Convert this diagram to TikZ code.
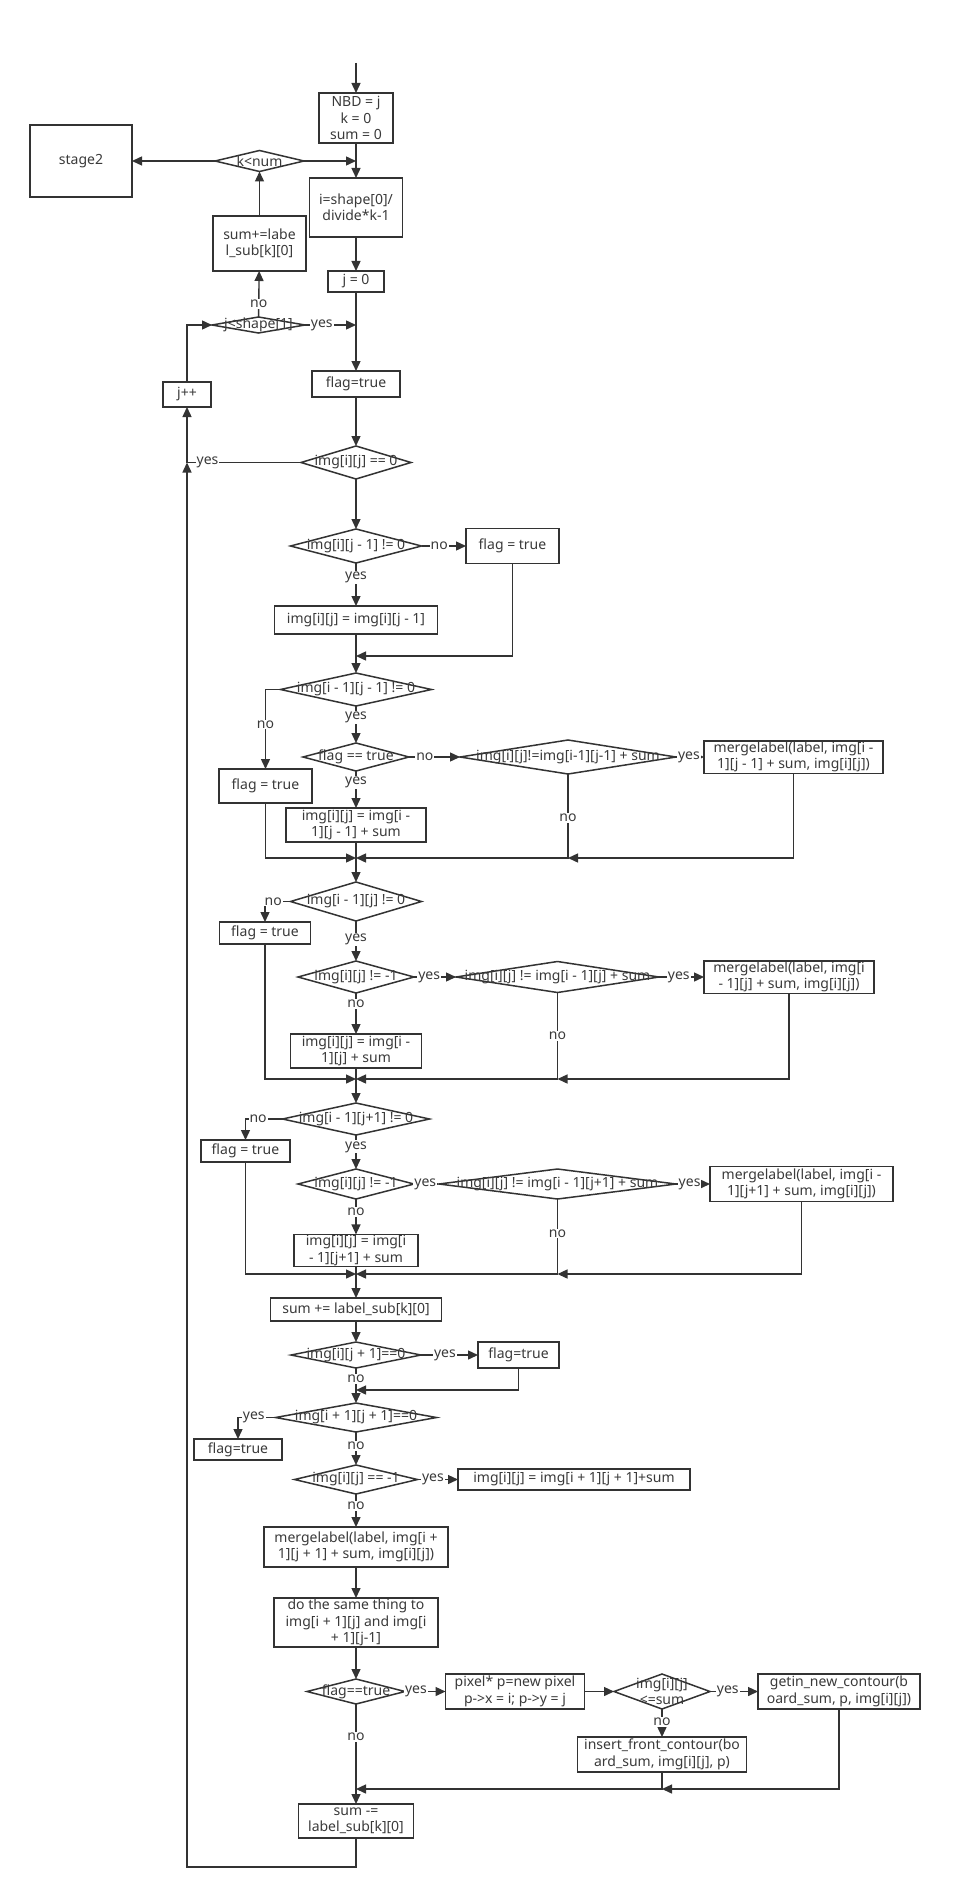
\documentclass[tikz,border=0pt]{standalone}
\usepackage{fontspec}
\setmainfont{Noto Sans}
\usetikzlibrary{arrows.meta,calc,shapes.geometric}
\definecolor{lc}{HTML}{333333}
\definecolor{tc}{HTML}{3A3A3A}
\newcommand\myfs{\fontsize{14}{16.5}\selectfont}
\newcommand\dianode[5]{\node[dia,minimum width=#3,minimum height=#4] (#1) at #2 {};\node[txt] (#1t) at (#1) {#5};}
\newcommand\boxnode[5]{\node[box,minimum width=#3,minimum height=#4] (#1) at #2 {#5};}
\tikzset{
  box/.style={draw=lc, line width=1.5pt, fill=white, inner sep=1pt, outer sep=0pt, align=center, text=tc, font=\myfs},
  dia/.style={draw=lc, line width=1.5pt, diamond, inner sep=0pt, outer sep=0pt},
  txt/.style={text=tc, font=\myfs, align=center, inner sep=0pt},
  arr/.style={draw=lc, line width=1.4pt, -{Triangle[length=10pt,width=9pt]}},
  ln/.style={draw=lc, line width=1.4pt},
  lab/.style={fill=white, text=tc, font=\myfs, inner sep=1pt},
}
\begin{document}
\begin{tikzpicture}[x=1pt,y=-1pt]
\useasboundingbox[fill=white] (0,0) rectangle (970,1894);
% ---------- top part ----------
\coordinate (top) at (356,63);
\boxnode{nbd}{(356,118)}{74}{50}{NBD = j\\k = 0\\sum = 0}
\boxnode{stage}{(81,161)}{102}{72}{stage2}
\dianode{knum}{(259.5,161)}{89}{21}{k<num}
\boxnode{ishape}{(356,207.5)}{93}{59}{i=shape[0]/\\divide*k-1}
\boxnode{sumlab}{(259.5,243.5)}{93}{55}{sum+=labe\\l\_sub[k][0]}
\boxnode{j0}{(356,281.5)}{56}{21}{j = 0}
\dianode{jsh}{(258.5,325)}{93}{16}{j<shape[1]}
\boxnode{jpp}{(187,394.5)}{48}{25}{j++}
\boxnode{flag0}{(356,384)}{88}{26}{flag=true}
\draw[arr] (top) -- (nbd);
\draw[arr] (nbd) -- (ishape);
\draw[arr] (knum.east) -- (knum.east -| nbd.south);
\draw[arr] (knum) -- (stage);
\draw[arr] (sumlab) -- (knum);
\draw[arr] (jsh) -- node[lab,pos=0.28]{no} (sumlab);
\draw[arr] (ishape) -- (j0);
\draw[arr] (jsh.east) -- node[lab,pos=0.33]{yes} (jsh.east -| j0.south);
\draw[arr] (j0) -- (flag0);
\draw[arr] (jpp.north) |- (jsh.west);
% ---------- block 1 ----------
\dianode{img0}{(356,462.5)}{110}{33}{img[i][j] == 0}
\coordinate (yj) at (187,462.5);
\draw[arr] (flag0) -- (img0);
\draw[ln] (img0.west) -- node[lab,pos=0.82]{yes} (yj);
\dianode{d2}{(356,546)}{131}{34}{img[i][j - 1] != 0}
\boxnode{flagA}{(512.5,546)}{93}{35}{flag = true}
\boxnode{boxA}{(356,620)}{163}{28}{img[i][j] = img[i][j - 1]}
\dianode{d3}{(356,689.5)}{151}{33}{img[i - 1][j - 1] != 0}
\draw[arr] (img0) -- (d2);
\draw[arr] (d2) -- node[lab,pos=0.4]{no} (flagA);
\draw[arr] (d2) -- node[lab,pos=0.33]{yes} (boxA);
\draw[arr] (boxA) -- (d3);
\coordinate (jA) at (356,656);
\draw[arr] (flagA) |- (jA);
\boxnode{flagB}{(265.5,786)}{93}{34}{flag = true}
\dianode{ft}{(356,757)}{106}{28}{flag == true}
\dianode{bg1}{(568,757)}{216}{34}{img[i][j]!=img[i-1][j-1] + sum}
\boxnode{mg1}{(793.5,757)}{179}{28}{mergelabel(label, img[i -\\1][j - 1] + sum, img[i][j])}
\boxnode{boxB}{(356,825)}{140}{34}{img[i][j] = img[i -\\1][j - 1] + sum}
\draw[arr] (d3.west) -| node[lab,pos=0.72]{no} (flagB);
\draw[arr] (d3) -- node[lab,pos=0.3]{yes} (ft);
\draw[arr] (ft) -- node[lab,pos=0.31]{no} (bg1);
\draw[arr] (bg1) -- node[lab,pos=0.46]{yes} (mg1);
\draw[arr] (ft) -- node[lab,pos=0.3]{yes} (boxB);
\coordinate (jB) at (356,858);
\coordinate (jB2) at (568,858);
\draw[arr] (flagB) |- (jB);
\draw[arr] (bg1) |- node[lab,pos=0.26]{no} (jB);
\draw[arr] (mg1) |- (jB2);
% ---------- block 2 ----------
\dianode{d4}{(356,901.5)}{131}{39}{img[i - 1][j] != 0}
\boxnode{flagC}{(265,933)}{91}{22}{flag = true}
\dianode{d5}{(356,977)}{116}{32}{img[i][j] != -1}
\dianode{bg2}{(557.5,977)}{203}{31}{img[i][j] != img[i - 1][j] + sum}
\boxnode{mg2}{(789,977)}{170}{32}{mergelabel(label, img[i\\- 1][j] + sum, img[i][j])}
\boxnode{boxC}{(356,1051)}{131}{34}{img[i][j] = img[i -\\1][j] + sum}
\draw[arr] (boxB) -- (d4);
\draw[arr] (d4.west) -| node[lab,pos=0.34]{no} (flagC);
\draw[arr] (d4) -- node[lab,pos=0.45]{yes} (d5);
\draw[arr] (d5) -- node[lab,pos=0.36]{yes} (bg2);
\draw[arr] (bg2) -- node[lab,pos=0.44]{yes} (mg2);
\draw[arr] (d5) -- node[lab,pos=0.27]{no} (boxC);
\coordinate (jC) at (356,1079);
\coordinate (jC2) at (557.5,1079);
\draw[arr] (flagC) |- (jC);
\draw[arr] (bg2) |- node[lab,pos=0.25]{no} (jC);
\draw[arr] (mg2) |- (jC2);
% ---------- block 3 ----------
\dianode{d6}{(356,1119)}{147}{32}{img[i - 1][j+1] != 0}
\boxnode{flagD}{(245.5,1151)}{89}{22}{flag = true}
\dianode{d7}{(356,1184)}{116}{30}{img[i][j] != -1}
\dianode{bg3}{(557.5,1184)}{237}{30}{img[i][j] != img[i - 1][j+1] + sum}
\boxnode{mg3}{(801.5,1184)}{183}{35}{mergelabel(label, img[i -\\1][j+1] + sum, img[i][j])}
\boxnode{boxD}{(356,1250.5)}{124}{31}{img[i][j] = img[i\\- 1][j+1] + sum}
\boxnode{sumb}{(356,1309.5)}{171}{23}{sum += label\_sub[k][0]}
\draw[arr] (boxC) -- (d6);
\draw[arr] (d6.west) -| node[lab,pos=0.33]{no} (flagD);
\draw[arr] (d6) -- node[lab,pos=0.35]{yes} (d7);
\draw[arr] (d7) -- node[lab,pos=0.45]{yes} (bg3);
\draw[arr] (bg3) -- node[lab,pos=0.4]{yes} (mg3);
\draw[arr] (d7) -- node[lab,pos=0.36]{no} (boxD);
\coordinate (jD) at (356,1274);
\coordinate (jD2) at (557.5,1274);
\draw[arr] (flagD) |- (jD);
\draw[arr] (bg3) |- node[lab,pos=0.23]{no} (jD);
\draw[arr] (mg3) |- (jD2);
\draw[arr] (boxD) -- (sumb);
% ---------- block 4 ----------
\dianode{d8}{(356,1355)}{130}{26}{img[i][j + 1]==0}
\boxnode{flagE}{(518.5,1355)}{81}{26}{flag=true}
\dianode{d9}{(356,1417.5)}{161}{29}{img[i + 1][j + 1]==0}
\boxnode{flagF}{(238,1449.5)}{88}{21}{flag=true}
\dianode{d10}{(356,1479.5)}{123}{29}{img[i][j] == -1}
\boxnode{boxE}{(574,1479.5)}{232}{21}{img[i][j] = img[i + 1][j + 1]+sum}
\boxnode{mgF}{(356,1547)}{184}{40}{mergelabel(label, img[i +\\1][j + 1] + sum, img[i][j])}
\draw[arr] (sumb) -- (d8);
\draw[arr] (d8) -- node[lab,pos=0.42]{yes} (flagE);
\draw[arr] (d8) -- node[lab,pos=0.31]{no} (d9);
\coordinate (jE) at (356,1390);
\draw[arr] (flagE) |- (jE);
\draw[arr] (d9.west) -| node[lab,pos=0.29]{yes} (flagF);
\draw[arr] (d9) -- node[lab,pos=0.42]{no} (d10);
\draw[arr] (d10) -- node[lab,pos=0.38]{yes} (boxE);
\draw[arr] (d10) -- node[lab,pos=0.36]{no} (mgF);
% ---------- block 5 ----------
\boxnode{ds}{(356,1622.5)}{164}{41}{do the same thing to\\img[i + 1][j] and img[i\\+ 1][j-1]}
\dianode{d11}{(356,1691.5)}{98}{25}{flag==true}
\boxnode{px}{(515,1691.5)}{139}{35}{pixel* p=new pixel\\p->x = i; p->y = j}
\dianode{d12}{(662,1691.5)}{96}{35}{img[i][j]\\<=sum}
\boxnode{gn}{(839,1691.5)}{162}{35}{getin\_new\_contour(b\\oard\_sum, p, img[i][j])}
\boxnode{ins}{(662,1754.5)}{169}{35}{insert\_front\_contour(bo\\ard\_sum, img[i][j], p)}
\boxnode{summ}{(356,1821)}{115}{34}{sum -=\\label\_sub[k][0]}
\draw[arr] (mgF) -- (ds);
\draw[arr] (ds) -- (d11);
\draw[arr] (d11) -- node[lab,pos=0.27]{yes} (px);
\draw[arr] (px) -- (d12);
\draw[arr] (d12) -- node[lab,pos=0.37]{yes} (gn);
\draw[arr] (d12) -- node[lab,pos=0.46]{no} (ins);
\draw[arr] (d11) -- node[lab,pos=0.33]{no} (summ);
\coordinate (jF) at (356,1789);
\coordinate (jF2) at (662,1789);
\draw[arr] (ins) |- (jF);
\draw[arr] (gn) |- (jF2);
% ---------- loop back ----------
\coordinate (lb) at (356,1867);
\draw[arr] (summ) -- (lb) -| (yj);
\draw[arr] (yj) -- (jpp);
\end{tikzpicture}
\end{document}
